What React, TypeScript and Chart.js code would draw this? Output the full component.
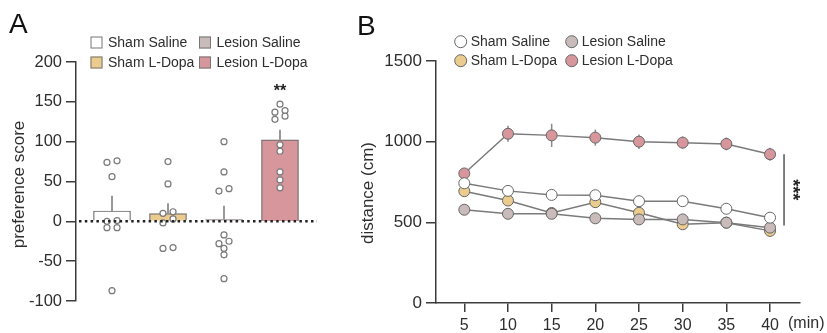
import React, { useEffect, useRef } from "react";
import { Chart, registerables } from "chart.js";
Chart.register(...registerables);

// ---------- Panel A data ----------
const groupsA = ["Sham Saline", "Sham L-Dopa", "Lesion Saline", "Lesion L-Dopa"];
const shamSalinePts = [76, 74, 56, 1, 0, -8, -8, -87];
const shamLdopaPts = [75, 47, 12, 10, 3, -2, -33, -34];
const lesionSalinePts = [100, 62, 41, 38, -17, -25, -28, -34, -42, -72];
const lesionLdopaPts = [147, 139, 137, 132, 128, 96, 88, 62, 52, 42];
const yTicksA = [-100, -50, 0, 50, 100, 150, 200];
const sigA = "**";

// ---------- Panel B data ----------
const timeMin = [5, 10, 15, 20, 25, 30, 35, 40];
const shamSalineDist = [742, 695, 670, 668, 631, 631, 584, 529];
const shamSalineErr = [15, 15, 15, 15, 15, 15, 20, 15];
const shamLdopaDist = [693, 635, 558, 625, 559, 488, 498, 447];
const shamLdopaErr = [20, 25, 20, 35, 30, 15, 20, 25];
const lesionSalineDist = [578, 553, 553, 525, 518, 518, 498, 467];
const lesionSalineErr = [15, 15, 15, 15, 15, 20, 35, 20];
const lesionLdopaDist = [803, 1049, 1039, 1025, 1000, 994, 986, 922];
const lesionLdopaErr = [12, 50, 72, 50, 45, 38, 40, 40];
const yTicksB = [0, 500, 1000, 1500];
const sigB = "***";

const FONT = "'Liberation Sans', Arial, Helvetica, sans-serif";
const COLORS = ["#FFFFFF", "#EBCB8E", "#C9BBBA", "#D7959C"];
const AXIS = "#3c3c3c";
const TXT = "#2e2e2e";

function mean(a: number[]) {
  return a.reduce((s, v) => s + v, 0) / a.length;
}
function sem(a: number[]) {
  const m = mean(a);
  const sd = Math.sqrt(a.reduce((s, v) => s + (v - m) * (v - m), 0) / (a.length - 1));
  return sd / Math.sqrt(a.length);
}
// simple swarm: pair neighbouring values that would overlap
function swarm(pts: number[], thr: number) {
  const sorted = pts.map((v, i) => ({ v, i })).sort((a, b) => b.v - a.v);
  const off = new Array(pts.length).fill(0);
  let k = 0;
  while (k < sorted.length) {
    if (k + 1 < sorted.length && sorted[k].v - sorted[k + 1].v < thr) {
      off[sorted[k].i] = 1;
      off[sorted[k + 1].i] = -1;
      k += 2;
    } else k += 1;
  }
  return off;
}

function ChartA() {
  const ref = useRef<HTMLCanvasElement>(null);
  useEffect(() => {
    const groups = [shamSalinePts, shamLdopaPts, lesionSalinePts, lesionLdopaPts];
    const means = groups.map(mean);
    const sems = groups.map(sem);
    const step = 0.09;
    const scatter: { x: number; y: number }[] = [];
    groups.forEach((g, gi) => {
      const off = swarm(g, 7);
      g.forEach((v, i) => scatter.push({ x: gi + 1 + off[i] * step, y: v }));
    });
    const plugin = {
      id: "decorA",
      beforeDatasetsDraw(chart: any) {
        const { ctx, scales } = chart;
        ctx.save();
        ctx.strokeStyle = "#777";
        ctx.lineWidth = 1.5;
        means.forEach((m, i) => {
          const x = scales.x.getPixelForValue(i + 1);
          ctx.beginPath();
          ctx.moveTo(x, scales.y.getPixelForValue(m));
          ctx.lineTo(x, scales.y.getPixelForValue(m + sems[i]));
          ctx.stroke();
        });
        ctx.restore();
      },
      afterDatasetsDraw(chart: any) {
        const { ctx, scales, chartArea } = chart;
        ctx.save();
        const y0 = scales.y.getPixelForValue(0);
        ctx.strokeStyle = "#222";
        ctx.lineWidth = 2.5;
        ctx.setLineDash([2.5, 3.3]);
        ctx.beginPath();
        ctx.moveTo(chartArea.left + 3, y0);
        ctx.lineTo(chartArea.right, y0);
        ctx.stroke();
        ctx.restore();
      },
      afterDraw(chart: any) {
        const { ctx, scales, chartArea } = chart;
        ctx.save();
        // panel letter
        ctx.fillStyle = "#111";
        ctx.font = `28px ${FONT}`;
        ctx.textAlign = "left";
        ctx.textBaseline = "alphabetic";
        ctx.fillText("A", 9, 33);
        // y title
        ctx.fillStyle = TXT;
        ctx.font = `17px ${FONT}`;
        ctx.translate(19, (chartArea.top + chartArea.bottom) / 2 + 3);
        ctx.rotate(-Math.PI / 2);
        ctx.textAlign = "center";
        ctx.textBaseline = "middle";
        ctx.fillText("preference score", 0, 0);
        ctx.restore();
        // significance
        ctx.save();
        ctx.fillStyle = "#222";
        ctx.font = `bold 16px ${FONT}`;
        ctx.textAlign = "center";
        ctx.textBaseline = "middle";
        const top = Math.max(...lesionLdopaPts);
        ctx.fillText(sigA, scales.x.getPixelForValue(4), scales.y.getPixelForValue(top) - 13);
        // legend
        const cols = [90.5, 199];
        const rows = [42.5, 62.5];
        const order = [0, 2, 1, 3];
        order.forEach((gi, k) => {
          const cx = cols[k % 2];
          const cy = rows[Math.floor(k / 2)];
          ctx.fillStyle = COLORS[gi];
          ctx.fillRect(cx, cy - 6, 12, 12);
          ctx.strokeStyle = "#777";
          ctx.lineWidth = 1;
          ctx.strokeRect(cx + 0.5, cy - 5.5, 11, 11);
          ctx.fillStyle = TXT;
          ctx.font = `14px ${FONT}`;
          ctx.textAlign = "left";
          ctx.textBaseline = "middle";
          ctx.fillText(groupsA[gi], cx + 17.5, cy + 0.5);
        });
        ctx.restore();
      },
    };
    const chart = new Chart(ref.current!, {
      type: "bar",
      data: {
        datasets: [
          {
            type: "scatter",
            data: scatter,
            pointRadius: 3,
            pointBackgroundColor: "#FFFFFF",
            pointBorderColor: "#7a7a7a",
            pointBorderWidth: 1.2,
            order: 0,
          } as any,
          {
            type: "bar",
            data: means.map((m, i) => ({ x: i + 1, y: m })),
            backgroundColor: COLORS,
            borderColor: "#6a6a6a",
            borderWidth: 1.2,
            barThickness: 37,
            order: 1,
          } as any,
        ],
      },
      options: {
        responsive: false,
        animation: false,
        layout: { padding: { top: 62, bottom: 32, right: 23, left: 0 } },
        plugins: { legend: { display: false }, tooltip: { enabled: false } },
        scales: {
          x: { type: "linear", min: 0.357, max: 4.661, display: false, offset: false, grid: { offset: false } },
          y: {
            min: -100,
            max: 200,
            afterBuildTicks: (s: any) => {
              s.ticks = yTicksA.map((v) => ({ value: v }));
            },
            ticks: { color: TXT, font: { size: 16.5, family: FONT }, padding: 4, callback: (v: any) => String(v) },
            grid: { drawOnChartArea: false, drawTicks: true, tickLength: 10, color: AXIS, lineWidth: 1.5 },
            border: { display: true, color: AXIS, width: 1.5 },
            afterFit: (s: any) => {
              s.width = 76;
            },
          },
        },
      } as any,
      plugins: [plugin],
    });
    return () => chart.destroy();
  }, []);
  return (
    <canvas
      ref={ref}
      width={340}
      height={333}
      style={{ position: "absolute", left: 0, top: 0, width: 340, height: 333 }}
    />
  );
}

function ChartB() {
  const ref = useRef<HTMLCanvasElement>(null);
  useEffect(() => {
    const series = [
      { label: "Sham Saline", d: shamSalineDist, e: shamSalineErr, c: COLORS[0] },
      { label: "Lesion Saline", d: lesionSalineDist, e: lesionSalineErr, c: COLORS[2] },
      { label: "Sham L-Dopa", d: shamLdopaDist, e: shamLdopaErr, c: COLORS[1] },
      { label: "Lesion L-Dopa", d: lesionLdopaDist, e: lesionLdopaErr, c: COLORS[3] },
    ];
    const plugin = {
      id: "decorB",
      beforeDatasetsDraw(chart: any) {
        const { ctx, scales } = chart;
        ctx.save();
        ctx.strokeStyle = "#8a8a8a";
        ctx.lineWidth = 1.5;
        series.forEach((s) => {
          s.d.forEach((v, i) => {
            const x = scales.x.getPixelForValue(timeMin[i]);
            ctx.beginPath();
            ctx.moveTo(x, scales.y.getPixelForValue(v - s.e[i]));
            ctx.lineTo(x, scales.y.getPixelForValue(v + s.e[i]));
            ctx.stroke();
          });
        });
        ctx.restore();
      },
      afterDraw(chart: any) {
        const { ctx, scales, chartArea } = chart;
        ctx.save();
        ctx.fillStyle = "#111";
        ctx.font = `28px ${FONT}`;
        ctx.textAlign = "left";
        ctx.textBaseline = "alphabetic";
        ctx.fillText("B", 17, 35);
        ctx.fillStyle = TXT;
        ctx.font = `17px ${FONT}`;
        ctx.save();
        ctx.translate(28, (chartArea.top + chartArea.bottom) / 2 + 11);
        ctx.rotate(-Math.PI / 2);
        ctx.textAlign = "center";
        ctx.textBaseline = "middle";
        ctx.fillText("distance (cm)", 0, 0);
        ctx.restore();
        // (min) unit label
        ctx.font = `16px ${FONT}`;
        ctx.textAlign = "left";
        ctx.textBaseline = "middle";
        ctx.fillText("(min)", scales.x.getPixelForValue(timeMin[timeMin.length - 1]) + 18, 324);
        // significance bracket
        const lx = scales.x.getPixelForValue(timeMin[timeMin.length - 1]) + 14;
        const last = timeMin.length - 1;
        const yTop = scales.y.getPixelForValue(lesionLdopaDist[last]);
        const yBot = scales.y.getPixelForValue((shamSalineDist[last] + shamLdopaDist[last] + lesionSalineDist[last]) / 3);
        ctx.strokeStyle = "#555";
        ctx.lineWidth = 1.5;
        ctx.beginPath();
        ctx.moveTo(lx, yTop);
        ctx.lineTo(lx, yBot);
        ctx.stroke();
        ctx.save();
        ctx.translate(lx + 8, (yTop + yBot) / 2);
        ctx.rotate(Math.PI / 2);
        ctx.fillStyle = "#222";
        ctx.font = `bold 18px ${FONT}`;
        ctx.textAlign = "center";
        ctx.textBaseline = "middle";
        ctx.fillText(sigB, 0, 0);
        ctx.restore();
        // legend
        const cols = [120.7, 231.7];
        const rows = [41.7, 60.7];
        const legendOrder = [0, 1, 2, 3];
        legendOrder.forEach((si, k) => {
          const s = series[si];
          const cx = cols[k % 2];
          const cy = rows[Math.floor(k / 2)];
          ctx.beginPath();
          ctx.arc(cx, cy, 6, 0, Math.PI * 2);
          ctx.fillStyle = s.c;
          ctx.fill();
          ctx.strokeStyle = "#666";
          ctx.lineWidth = 1;
          ctx.stroke();
          ctx.fillStyle = TXT;
          ctx.font = `14px ${FONT}`;
          ctx.textAlign = "left";
          ctx.textBaseline = "middle";
          ctx.fillText(s.label, cx + 10, cy + 0.5);
        });
        ctx.restore();
      },
    };
    const chart = new Chart(ref.current!, {
      type: "line",
      data: {
        datasets: series.map((s) => ({
          label: s.label,
          data: s.d.map((v, i) => ({ x: timeMin[i], y: v })),
          borderColor: "#7a7a7a",
          borderWidth: 1.5,
          pointRadius: 5.5,
          pointBackgroundColor: s.c,
          pointBorderColor: "#666",
          pointBorderWidth: 1,
          fill: false,
          tension: 0,
        })),
      },
      options: {
        responsive: false,
        animation: false,
        layout: { padding: { top: 61, bottom: 0, right: 27, left: 0 } },
        plugins: { legend: { display: false }, tooltip: { enabled: false } },
        scales: {
          x: {
            type: "linear",
            min: 1.76,
            max: 43.43,
            afterBuildTicks: (s: any) => {
              s.ticks = timeMin.map((v) => ({ value: v }));
            },
            ticks: {
              color: TXT,
              font: { size: 16, family: FONT },
              padding: 4,
              maxRotation: 0,
              autoSkip: false,
              callback: (v: any) => String(v),
            },
            grid: { drawOnChartArea: false, drawTicks: true, tickLength: 9, color: AXIS, lineWidth: 1.5 },
            border: { display: true, color: AXIS, width: 1.5 },
            afterFit: (s: any) => {
              s.height = 30;
            },
          },
          y: {
            min: 0,
            max: 1500,
            afterBuildTicks: (s: any) => {
              s.ticks = yTicksB.map((v) => ({ value: v }));
            },
            ticks: { color: TXT, font: { size: 17, family: FONT }, padding: 4, callback: (v: any) => String(v) },
            grid: { drawOnChartArea: false, drawTicks: true, tickLength: 10, color: AXIS, lineWidth: 1.5 },
            border: { display: true, color: AXIS, width: 1.5 },
            afterFit: (s: any) => {
              s.width = 96;
            },
          },
        },
      } as any,
      plugins: [plugin],
    });
    return () => chart.destroy();
  }, []);
  return (
    <canvas
      ref={ref}
      width={487}
      height={333}
      style={{ position: "absolute", left: 340, top: 0, width: 487, height: 333 }}
    />
  );
}

export default function App() {
  return (
    <div
      style={{
        position: "fixed",
        left: 0,
        top: 0,
        width: 827,
        height: 333,
        background: "#ffffff",
        overflow: "hidden",
      }}
    >
      <ChartA />
      <ChartB />
    </div>
  );
}
